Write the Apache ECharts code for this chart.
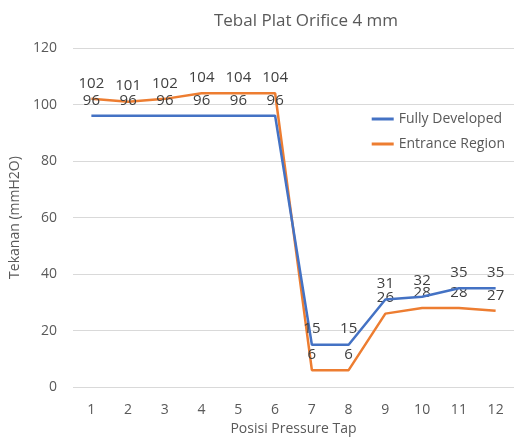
<!DOCTYPE html>
<html><head><meta charset="utf-8">
<script src="https://cdn.jsdelivr.net/npm/echarts@6/dist/echarts.min.js"></script>
<style>html,body{margin:0;padding:0;background:#fff}#c{width:514px;height:441px}</style>
</head><body><div id="c"></div>
<script>
const categories = ['1','2','3','4','5','6','7','8','9','10','11','12'];
const fullyDeveloped = [96,96,96,96,96,96,15,15,31,32,35,35];
const entranceRegion = [102,101,102,104,104,104,6,6,26,28,28,27];
const yTicks = [0,20,40,60,80,100,120];

const font = 'Open Sans, Liberation Sans, sans-serif';
const chart = echarts.init(document.getElementById('c'), null, {renderer:'canvas'});
const lbl = {show:true, position:'top', distance:8, color:'#404040', fontSize:15, fontFamily:font};
chart.setOption({
  animation:false,
  title:{text:'Tebal Plat Orifice 4 mm', left:301, top:8, textAlign:'center',
    textStyle:{fontSize:17, fontWeight:'normal', color:'#595959', fontFamily:font}},
  legend:{orient:'vertical', right:4, top:107, itemGap:11, itemWidth:22, itemHeight:3,
    icon:'rect', textStyle:{fontSize:14, color:'#595959', fontFamily:font},
    data:['Fully Developed','Entrance Region']},
  grid:{left:73, right:0, top:48, bottom:53},
  xAxis:{type:'category', data:categories, boundaryGap:true,
    name:'Posisi Pressure Tap', nameLocation:'middle', nameGap:27,
    nameTextStyle:{fontSize:14, color:'#595959', fontFamily:font},
    axisLine:{show:false}, axisTick:{show:false},
    axisLabel:{color:'#595959', fontSize:14, fontFamily:font, margin:16}},
  yAxis:{type:'value', min:yTicks[0], max:yTicks[yTicks.length-1], interval:20,
    name:'Tekanan (mmH2O)', nameLocation:'middle', nameGap:38,
    nameTextStyle:{fontSize:14, color:'#595959', fontFamily:font},
    axisLine:{show:false}, axisTick:{show:false},
    axisLabel:{color:'#595959', fontSize:14, fontFamily:font, margin:16},
    splitLine:{lineStyle:{color:'#d9d9d9', width:1}}},
  series:[
    {name:'Fully Developed', type:'line', data:fullyDeveloped, symbol:'circle', symbolSize:0, showSymbol:true,
     lineStyle:{color:'#4472C4', width:2.5}, itemStyle:{color:'#4472C4'}, label:lbl, z:3},
    {name:'Entrance Region', type:'line', data:entranceRegion, symbol:'circle', symbolSize:0, showSymbol:true,
     lineStyle:{color:'#ED7D31', width:2.5}, itemStyle:{color:'#ED7D31'}, label:lbl, z:2}
  ]
});
</script></body></html>
